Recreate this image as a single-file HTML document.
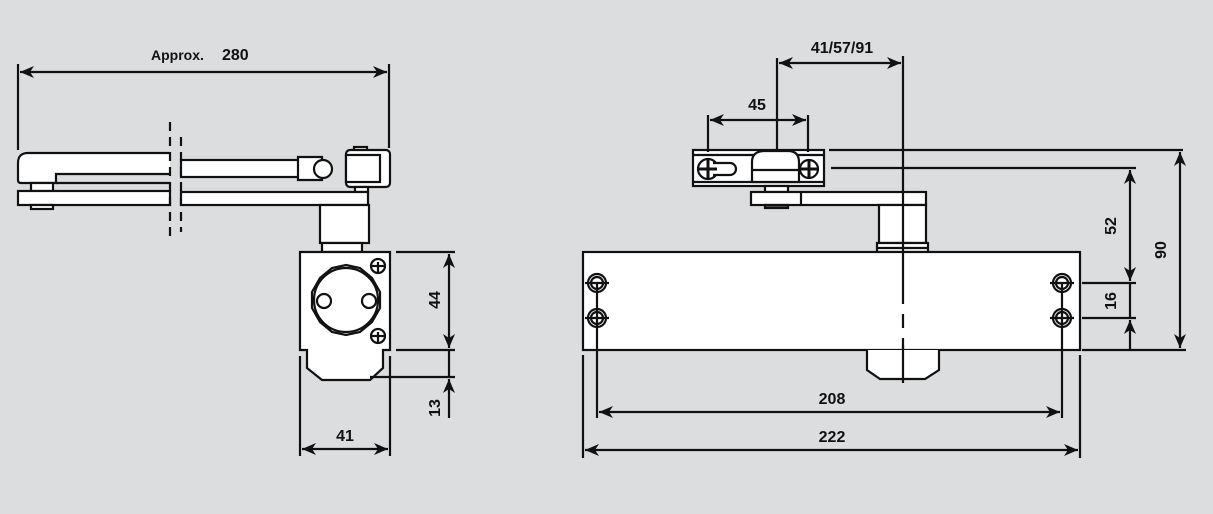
<!DOCTYPE html>
<html><head><meta charset="utf-8"><style>
html,body{margin:0;padding:0;background:#dcdddf;}
svg{display:block}
text{font-family:"Liberation Sans",sans-serif;font-weight:bold;font-size:16px;fill:#111}
</style></head><body>
<svg width="1213" height="514" viewBox="0 0 1213 514" xmlns="http://www.w3.org/2000/svg">
<defs>
<marker id="a" viewBox="0 0 14 12" refX="14" refY="6" markerWidth="14" markerHeight="12" markerUnits="userSpaceOnUse" orient="auto-start-reverse"><path d="M0,0 L14,6 L0,12 L4,6 z" fill="#111"/></marker>
</defs>
<g stroke="#111" stroke-width="2.2" fill="none">
<path d="M170,153 H28 Q18,153 18,163 V180 Q18,183 21,183 H56 V174 H170" fill="#fff"/>
<line x1="56" y1="183" x2="170" y2="183"/>
<rect x="31" y="183" width="22" height="8" fill="#fff"/>
<rect x="18" y="191" width="152" height="14" fill="#fff"/>
<rect x="31" y="205" width="22" height="4" fill="#fff"/>
<line x1="170" y1="122" x2="170" y2="238" stroke-dasharray="9,6"/>
<line x1="181" y1="137" x2="181" y2="232" stroke-dasharray="9,6"/>
<rect x="181" y="160" width="118" height="17" fill="#fff"/>
<path d="M298,157 H322 V180 H298 Z" fill="#fff"/>
<circle cx="323" cy="169" r="9" fill="#fff"/>
<rect x="354" y="147" width="13" height="5" fill="#fff"/>
<rect x="346" y="150" width="44" height="37" rx="4" fill="#fff"/>
<rect x="346" y="155" width="34" height="27" fill="#fff"/>
<rect x="355" y="187" width="13" height="5" fill="#fff"/>
<rect x="181" y="192" width="187" height="13" fill="#fff"/>
<rect x="320" y="205" width="49" height="38" fill="#fff"/>
<rect x="322" y="243" width="40" height="9" fill="#fff"/>
<path d="M300,252 H390 V350 H383 V368 L370,380 H322 L307,368 V350 H300 Z" fill="#fff"/>
<polygon points="346,265 360,268 372,278 380,292 380,308 372,322 360,332 346,335 332,332 320,322 312,308 312,292 320,278 332,268" fill="#fff"/>
<circle cx="346" cy="300" r="32"/>
<circle cx="324" cy="301" r="7"/>
<circle cx="369" cy="301" r="7"/>
<circle cx="378" cy="266" r="7" fill="#fff"/><line x1="371" y1="266" x2="385" y2="266"/><line x1="378" y1="262" x2="378" y2="272"/>
<circle cx="378" cy="336" r="7" fill="#fff"/><line x1="371" y1="336" x2="385" y2="336"/><line x1="378" y1="332" x2="378" y2="342"/>
<line x1="18" y1="64" x2="18" y2="150"/>
<line x1="389" y1="64" x2="389" y2="148"/>
<line x1="20" y1="72" x2="387" y2="72" marker-start="url(#a)" marker-end="url(#a)"/>
<line x1="396" y1="252" x2="455" y2="252"/>
<line x1="396" y1="350" x2="455" y2="350"/>
<line x1="370" y1="377" x2="455" y2="377"/>
<line x1="449" y1="254" x2="449" y2="348" marker-start="url(#a)" marker-end="url(#a)"/>
<line x1="449" y1="350" x2="449" y2="377"/>
<line x1="449" y1="418" x2="449" y2="379" marker-end="url(#a)"/>
<line x1="300" y1="356" x2="300" y2="456"/>
<line x1="390" y1="356" x2="390" y2="456"/>
<line x1="302" y1="449" x2="388" y2="449" marker-start="url(#a)" marker-end="url(#a)"/>

<rect x="693" y="150" width="131" height="36" fill="#fff"/>
<line x1="693" y1="155" x2="824" y2="155"/>
<line x1="693" y1="182" x2="824" y2="182"/>
<circle cx="708" cy="169" r="10" fill="#fff"/>
<path d="M713,163 H730 A6,6 0 0 1 730,175 H713" fill="#fff"/>
<line x1="708" y1="159" x2="708" y2="179" stroke-width="3"/><line x1="699" y1="169" x2="717" y2="169" stroke-width="3"/>
<path d="M752,182 V162 Q752,151 765,151 H788 Q799,151 799,162 V182 Z" fill="#fff"/>
<line x1="752" y1="170" x2="799" y2="170"/>
<circle cx="809" cy="169" r="9" fill="#fff"/>
<line x1="809" y1="161" x2="809" y2="177" stroke-width="3"/><line x1="801" y1="169" x2="817" y2="169" stroke-width="3"/>
<rect x="765" y="186" width="23" height="6" fill="#fff"/>
<rect x="751" y="192" width="175" height="13" fill="#fff"/>
<line x1="801" y1="192" x2="801" y2="205"/>
<rect x="765" y="205" width="23" height="3" fill="#555"/>
<rect x="879" y="205" width="47" height="38" fill="#fff"/>
<rect x="877" y="243" width="51" height="9" fill="#fff"/>
<line x1="877" y1="248" x2="928" y2="248"/>
<rect x="583" y="252" width="497" height="98" fill="#fff"/>
<path d="M867,350 V370 L880,379 H925 L939,370 V350" fill="#fff"/>
<g>
<circle cx="597" cy="283" r="9"/><circle cx="597" cy="283" r="6"/><line x1="585" y1="283" x2="609" y2="283"/>
<circle cx="597" cy="318" r="9"/><circle cx="597" cy="318" r="6"/><line x1="585" y1="318" x2="609" y2="318"/>
<circle cx="1062" cy="283" r="9"/><circle cx="1062" cy="283" r="6"/><line x1="1050" y1="283" x2="1074" y2="283"/>
<circle cx="1062" cy="318" r="9"/><circle cx="1062" cy="318" r="6"/><line x1="1050" y1="318" x2="1074" y2="318"/>
</g>
<line x1="903" y1="56" x2="903" y2="290"/>
<line x1="903" y1="290" x2="903" y2="350" stroke-dasharray="14,10"/>
<line x1="903" y1="345" x2="903" y2="383"/>
<line x1="777" y1="58" x2="777" y2="150"/>
<line x1="779" y1="63" x2="901" y2="63" marker-start="url(#a)" marker-end="url(#a)"/>
<line x1="708" y1="115" x2="708" y2="152"/>
<line x1="808" y1="115" x2="808" y2="152"/>
<line x1="710" y1="120" x2="806" y2="120" marker-start="url(#a)" marker-end="url(#a)"/>
<line x1="829" y1="150" x2="1183" y2="150"/>
<line x1="831" y1="168" x2="1136" y2="168"/>
<line x1="1082" y1="283" x2="1136" y2="283"/>
<line x1="1082" y1="318" x2="1136" y2="318"/>
<line x1="1082" y1="350" x2="1186" y2="350"/>
<line x1="1130" y1="170" x2="1130" y2="281" marker-start="url(#a)" marker-end="url(#a)"/>
<line x1="1130" y1="283" x2="1130" y2="318"/>
<line x1="1130" y1="350" x2="1130" y2="320" marker-end="url(#a)"/>
<line x1="1180" y1="152" x2="1180" y2="348" marker-start="url(#a)" marker-end="url(#a)"/>
<line x1="583" y1="355" x2="583" y2="458"/>
<line x1="1080" y1="355" x2="1080" y2="458"/>
<line x1="597" y1="283" x2="597" y2="418"/>
<line x1="1062" y1="283" x2="1062" y2="418"/>
<line x1="599" y1="412" x2="1060" y2="412" marker-start="url(#a)" marker-end="url(#a)"/>
<line x1="585" y1="450" x2="1078" y2="450" marker-start="url(#a)" marker-end="url(#a)"/>
</g>
<text x="151" y="60" style="font-size:14px">Approx.</text>
<text x="222" y="60">280</text>
<text x="345" y="441" text-anchor="middle">41</text>
<text transform="translate(440,300) rotate(-90)" text-anchor="middle">44</text>
<text transform="translate(440,408) rotate(-90)" text-anchor="middle">13</text>
<text x="842" y="53" text-anchor="middle">41/57/91</text>
<text x="757" y="110" text-anchor="middle">45</text>
<text transform="translate(1116,226) rotate(-90)" text-anchor="middle">52</text>
<text transform="translate(1116,301) rotate(-90)" text-anchor="middle">16</text>
<text transform="translate(1166,250) rotate(-90)" text-anchor="middle">90</text>
<text x="832" y="404" text-anchor="middle">208</text>
<text x="832" y="442" text-anchor="middle">222</text>
</svg>
</body></html>
